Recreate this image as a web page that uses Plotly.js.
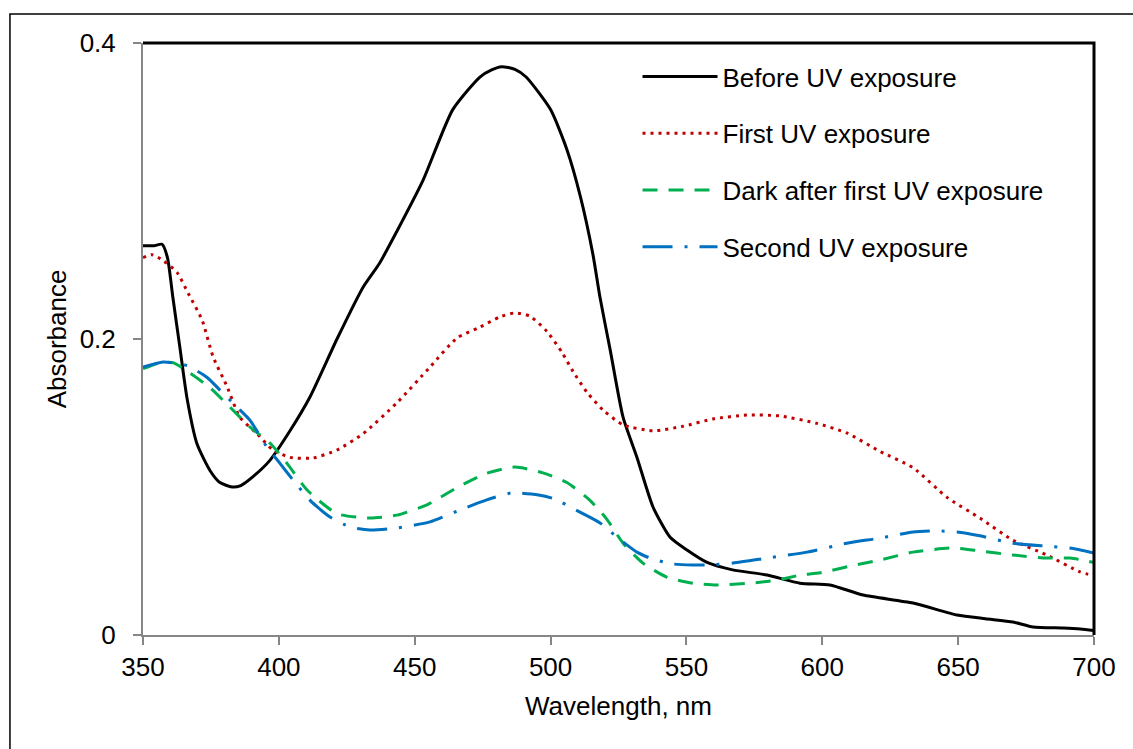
<!DOCTYPE html>
<html>
<head>
<meta charset="utf-8">
<script src="https://cdn.plot.ly/plotly-3.0.1.min.js"></script>
<style>html,body{margin:0;padding:0;background:#fff;}#chart{width:1133px;height:749px;}</style>
</head>
<body>
<div id="chart"></div>
<script>
// Series names
const seriesNames = ["Before UV exposure", "First UV exposure", "Dark after first UV exposure", "Second UV exposure"];

// Before UV exposure
const wlBefore = [350, 354, 357, 359, 361, 363.6, 366.2, 369.9, 374.7, 378.3, 382.8, 386, 390.5, 396.7, 404.1, 411.5, 421.4, 431, 437, 443.5, 453, 464, 474, 478.3, 482, 486.9, 491, 500, 506, 511, 515.6, 518.2, 521.9, 526.7, 531.8, 537.7, 544, 550.2, 557.6, 567, 579.7, 591.8, 602.8, 615, 633.4, 649.6, 660, 670.2, 677.6, 688.6, 695, 700];
const absBefore = [0.263, 0.263, 0.264, 0.255, 0.228, 0.194, 0.160, 0.129, 0.111, 0.103, 0.100, 0.101, 0.107, 0.118, 0.138, 0.161, 0.200, 0.235, 0.251, 0.273, 0.307, 0.355, 0.377, 0.3818, 0.384, 0.3822, 0.377, 0.355, 0.328, 0.296, 0.257, 0.228, 0.193, 0.147, 0.120, 0.0865, 0.066, 0.0574, 0.049, 0.044, 0.0405, 0.035, 0.0338, 0.027, 0.0216, 0.0135, 0.011, 0.0088, 0.0054, 0.0047, 0.004, 0.003];

// First UV exposure
const wlFirst = [350, 353.3, 357.4, 362.5, 366.6, 371.7, 375.8, 380.9, 385.7, 392, 397.8, 404.1, 412.6, 421.4, 431, 443.5, 455.6, 465.6, 474, 481.4, 486.9, 492.4, 498.7, 504.2, 508.3, 513.4, 519.3, 526.7, 537.7, 548.7, 559.8, 572.3, 584.4, 598, 609, 621.3, 633.4, 645.9, 658, 670.2, 682.7, 694.9, 700];
const absFirst = [0.255, 0.257, 0.253, 0.245, 0.231, 0.213, 0.188, 0.168, 0.147, 0.136, 0.125, 0.120, 0.1196, 0.125, 0.136, 0.157, 0.181, 0.2007, 0.208, 0.215, 0.2176, 0.2155, 0.205, 0.191, 0.178, 0.164, 0.152, 0.142, 0.138, 0.141, 0.146, 0.1486, 0.148, 0.143, 0.1365, 0.124, 0.113, 0.093, 0.079, 0.064, 0.054, 0.0426, 0.040];

// Dark after first UV exposure
const wlDark = [350, 356.3, 361, 367.3, 374.7, 382, 389.4, 396.7, 403, 410.4, 421.4, 433.5, 443.5, 454.5, 466, 476, 486.9, 497.2, 506, 514.5, 520.8, 526.7, 534, 542.9, 552.4, 561.3, 573.4, 583.3, 591.8, 599.2, 611.3, 621.3, 633.4, 648, 658, 670.2, 682.7, 691.2, 700];
const absDark = [0.180, 0.184, 0.184, 0.177, 0.167, 0.154, 0.1405, 0.1297, 0.116, 0.098, 0.082, 0.079, 0.081, 0.088, 0.100, 0.109, 0.1135, 0.1095, 0.103, 0.091, 0.078, 0.062, 0.0486, 0.039, 0.035, 0.0338, 0.035, 0.037, 0.0405, 0.042, 0.047, 0.0507, 0.056, 0.0588, 0.0568, 0.054, 0.052, 0.052, 0.049];

// Second UV exposure
const wlSecond = [350, 357.4, 366.2, 373.6, 378.3, 384.6, 389.4, 395.6, 400.4, 405.2, 411.5, 418.8, 426.2, 433.5, 443.5, 455.6, 466, 476, 485.7, 495.6, 501.3, 510.8, 518.2, 524.5, 531.8, 537.4, 545, 552.4, 558.7, 567.2, 579.7, 594.4, 609, 621.3, 633.4, 642.2, 649.6, 658, 670.2, 682.7, 691.2, 700];
const absSecond = [0.181, 0.1845, 0.182, 0.174, 0.1655, 0.154, 0.145, 0.127, 0.116, 0.1047, 0.091, 0.0797, 0.073, 0.071, 0.0723, 0.0764, 0.084, 0.091, 0.096, 0.0946, 0.092, 0.083, 0.0757, 0.066, 0.056, 0.0514, 0.048, 0.0473, 0.0473, 0.0486, 0.052, 0.056, 0.062, 0.0655, 0.0696, 0.0703, 0.0696, 0.067, 0.062, 0.060, 0.0588, 0.0554];

// Axis ticks
const xTicks = [350, 400, 450, 500, 550, 600, 650, 700];
const yTicks = [0, 0.2, 0.4];
const yTickText = ["0", "0.2", "0.4"];

const FONT = "Liberation Sans, Arial, sans-serif";
const FS = 26;

const traces = [
  {x: wlBefore, y: absBefore, name: seriesNames[0], legendgroup: "g1",
   line: {color: "#000000", width: 3, shape: "spline", smoothing: 0.6}},
  {x: wlFirst, y: absFirst, name: seriesNames[1], legendgroup: "g2",
   line: {color: "#C00000", width: 3, dash: "3px,5px", shape: "spline", smoothing: 0.6}},
  {x: wlDark, y: absDark, name: seriesNames[2], legendgroup: "g3",
   line: {color: "#00B050", width: 3, dash: "15px,11px", shape: "spline", smoothing: 0.6}},
  {x: wlSecond, y: absSecond, name: seriesNames[3], legendgroup: "g4",
   line: {color: "#0070C0", width: 3, dash: "30px,12px,3px,12px", shape: "spline", smoothing: 0.6}}
].map(t => Object.assign({type: "scatter", mode: "lines", hoverinfo: "skip"}, t));

const layout = {
  width: 1133, height: 749,
  margin: {l: 143, r: 39, t: 43, b: 114, pad: 0},
  paper_bgcolor: "#ffffff", plot_bgcolor: "#ffffff",
  font: {family: FONT, size: FS, color: "#000000"},
  showlegend: true,
  legend: {x: 0.52, y: 0.983, xanchor: "left", yanchor: "top", bgcolor: "rgba(0,0,0,0)",
           font: {family: FONT, size: FS, color: "#000"}, tracegroupgap: 20, itemwidth: 75, traceorder: "grouped"},
  xaxis: {range: [350, 700], tickvals: xTicks, showgrid: false, zeroline: false,
          showline: true, linecolor: "#868686", linewidth: 2,
          ticks: "outside", ticklen: 8, tickwidth: 2, tickcolor: "#868686",
          tickfont: {family: FONT, size: FS, color: "#000"},
          title: {text: "Wavelength, nm", font: {family: FONT, size: FS, color: "#000"}, standoff: 16}},
  yaxis: {range: [0, 0.4], tickvals: yTicks, ticktext: yTickText, showgrid: false, zeroline: false,
          showline: true, linecolor: "#868686", linewidth: 2,
          ticks: "outside", ticklen: 8, tickwidth: 2, tickcolor: "#868686", ticklabelstandoff: 12,
          tickfont: {family: FONT, size: FS, color: "#000"},
          title: {text: "Absorbance", font: {family: FONT, size: FS, color: "#000"}, standoff: 6}},
  shapes: [
    {type: "path", xref: "paper", yref: "paper", path: "M0,1 L1,1 L1,0",
     line: {color: "#000000", width: 3}},
    {type: "path", xref: "paper", yref: "paper", path: "M-0.1399,-0.25 L-0.1399,1.049 L1.1,1.049",
     line: {color: "#000000", width: 1.5}, layer: "below"}
  ]
};

Plotly.newPlot("chart", traces, layout, {displayModeBar: false, staticPlot: true});
</script>
</body>
</html>
